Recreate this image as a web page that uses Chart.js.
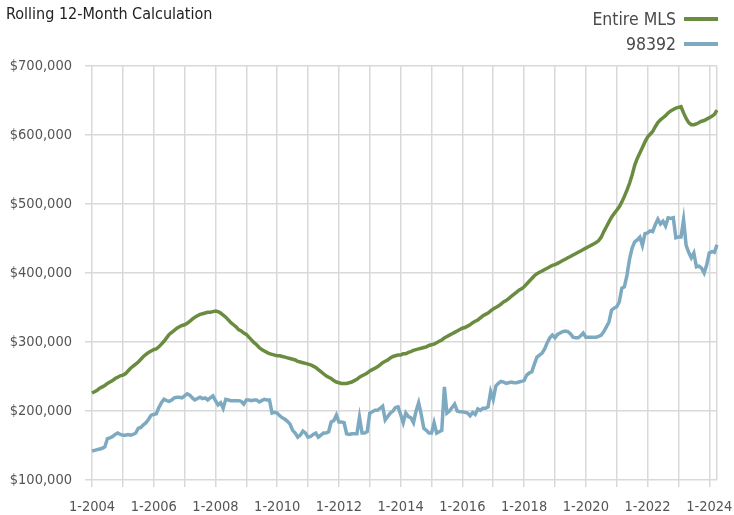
<!DOCTYPE html>
<html>
<head>
<meta charset="utf-8">
<script src="https://cdn.jsdelivr.net/npm/chart.js@4.4.1/dist/chart.umd.min.js"></script>
<style>
  html, body { margin: 0; padding: 0; background: #fff; }
  #wrap { position: relative; width: 734px; height: 515px; font-family: "DejaVu Sans Condensed", "Liberation Sans Narrow", sans-serif; }
  #title { position: absolute; left: 6px; top: 6px; font-size: 16px; line-height: 16px; color: #222; white-space: nowrap; }
  .leg { position: absolute; right: 16px; display: flex; align-items: center; font-size: 17.5px; line-height: 20px; color: #4a4a4a; white-space: nowrap; }
  .leg i { display: inline-block; width: 34px; height: 4px; margin-left: 8px; }
</style>
</head>
<body>
<div id="wrap">
  <canvas id="chart" width="734" height="515"></canvas>
  <div id="title">Rolling 12-Month Calculation</div>
  <div id="legend"></div>
</div>
<script>
// monthly, 1-2004 .. 4-2024
const startYear = 2004;
const monthCount = 244;
const labels = [];
for (let i = 0; i < monthCount; i++) {
  labels.push(((i % 12) + 1) + "-" + (startYear + Math.floor(i / 12)));
}

const seriesNames = ["Entire MLS", "98392"];
const seriesColors = ["#6a8c40", "#7eaac1"];

// values in $1000s
const entireMls = [
  226, 228, 230, 233, 235, 237, 240, 242, 244, 247, 249, 251,
  252, 254, 258, 262, 265, 268, 271, 275, 279, 282, 285, 287,
  289, 290, 293, 297, 301, 306, 311, 314, 317, 320, 322, 324,
  325, 327, 330, 333, 336, 338, 340, 341, 342, 343, 343, 344,
  345, 344, 342, 339, 336, 332, 328, 325, 322, 318, 316, 313,
  311, 307, 303, 299, 296, 292, 289, 287, 285, 283, 282, 281,
  280, 280, 279, 278, 277, 276, 275, 274, 272, 271, 270, 269,
  268, 267, 265, 263, 260, 257, 254, 251, 249, 247, 244, 242,
  241, 240, 240, 240, 241, 242, 244, 246, 249, 251, 253, 255,
  258, 260, 262, 264, 267, 270, 272, 274, 277, 279, 280, 281,
  281, 283, 283, 285, 286, 288, 289, 290, 291, 292, 293, 295,
  296, 297, 299, 301, 303, 306, 308, 310, 312, 314, 316, 318,
  320, 321, 323, 325, 328, 330, 332, 335, 338, 340, 342, 345,
  348, 350, 352, 355, 358, 360, 363, 366, 369, 372, 375, 377,
  380, 384, 388, 392, 396, 399, 401, 403, 405, 407, 409, 411,
  412, 414, 416, 418, 420, 422, 424, 426, 428, 430, 432, 434,
  436, 438, 440, 442, 444, 447, 452, 460, 467, 474, 481, 486,
  491, 496, 503, 511, 520, 530, 542, 556, 566, 574, 582, 590,
  597, 601, 605, 612, 618, 622, 625, 628, 632, 635, 637, 639,
  640, 641, 632, 624, 618, 615, 615, 616, 618, 620, 621, 623,
  625, 627, 630, 636
];

const zip98392 = [
  142, 143, 144, 145, 146, 148, 160, 161, 163, 166, 168, 166,
  165, 165, 166, 165, 166, 168, 175, 176, 180, 183, 188, 194,
  195, 196, 205, 212, 217, 215, 214, 216, 219, 220, 220, 219,
  222, 225, 223, 219, 216, 218, 220, 218, 219, 216, 219, 222,
  215, 209, 212, 204, 217, 216, 215, 215, 215, 215, 214, 210,
  216, 216, 215, 216, 216, 213, 215, 217, 216, 216, 197, 198,
  197, 193, 190, 188, 185, 181, 172, 168, 162, 165, 171, 168,
  162, 163, 166, 168, 162, 165, 168, 168, 170, 184, 186, 194,
  184, 184, 183, 167, 166, 167, 167, 167, 191, 168, 168, 170,
  197, 199, 201, 201, 204, 207, 187, 192, 197, 200, 205, 206,
  195, 183, 197, 192, 190, 183, 200, 212, 195, 175, 172, 168,
  168, 183, 168, 170, 172, 235, 197, 200, 205, 210, 200, 199,
  199, 198, 197, 193, 198, 195, 203, 201, 204, 204, 206, 228,
  217, 236, 240, 243, 242, 240, 241, 242, 241, 241, 242, 243,
  244, 252, 255, 257, 268, 278, 281, 284, 290, 299, 306, 310,
  306, 311, 313, 315, 316, 315, 312, 307, 306, 306, 309, 313,
  307, 307, 307, 307, 307, 308, 310, 315, 322, 329, 346, 349,
  351, 358, 378, 380, 397, 420, 436, 445, 448, 452, 440, 457,
  458, 461, 460, 470, 478, 471, 475, 468, 480, 479, 480, 451,
  452, 452, 477, 440, 430, 422, 429, 409, 410, 407, 400, 412,
  429, 431, 430, 441
];

const yMin = 100000;
const yMax = 700000;
const yStep = 100000;

const gridColor = "#d9d9d9";
const textColor = "#555";
const fontFamily = '"DejaVu Sans Condensed", "Liberation Sans Narrow", sans-serif';

// legend: text then line sample, stacked
const legendEl = document.getElementById("legend");
seriesNames.forEach((name, i) => {
  const row = document.createElement("div");
  row.className = "leg";
  row.style.top = (9 + i * 25) + "px";
  row.innerHTML = "<span>" + name + "</span><i style='background:" + seriesColors[i] + "'></i>";
  legendEl.appendChild(row);
});

const isYearLine = (i) => i % 12 === 0 || i === monthCount - 1;

const ctx = document.getElementById("chart").getContext("2d");
new Chart(ctx, {
  type: "line",
  data: {
    labels: labels,
    datasets: [
      {
        label: seriesNames[0],
        data: entireMls.map(v => v * 1000),
        borderColor: seriesColors[0],
        borderWidth: 3.5,
        pointRadius: 0,
        tension: 0,
        fill: false
      },
      {
        label: seriesNames[1],
        data: zip98392.map(v => v * 1000),
        borderColor: seriesColors[1],
        borderWidth: 3.5,
        pointRadius: 0,
        tension: 0,
        fill: false
      }
    ]
  },
  options: {
    responsive: false,
    animation: false,
    devicePixelRatio: 1,
    layout: { padding: { top: 66, right: 17, left: 0, bottom: 0 } },
    plugins: {
      legend: { display: false },
      tooltip: { enabled: false }
    },
    scales: {
      x: {
        offset: false,
        afterFit: (scale) => { scale.height = 35; },
        grid: {
          color: (c) => isYearLine(c.index) ? gridColor : "transparent",
          tickColor: (c) => c.index % 12 === 0 ? gridColor : "transparent",
          lineWidth: 1.5,
          tickLength: 7
        },
        border: { display: false },
        ticks: {
          autoSkip: false,
          maxRotation: 0,
          padding: 12,
          color: textColor,
          font: { family: fontFamily, size: 14.5 },
          callback: function (value, index) {
            return index % 24 === 0 ? labels[index] : "";
          }
        }
      },
      y: {
        min: yMin,
        max: yMax,
        afterFit: (scale) => { scale.width = 92; },
        grid: {
          color: gridColor,
          lineWidth: 1.5,
          tickLength: 7
        },
        border: { display: false },
        ticks: {
          stepSize: yStep,
          padding: 13,
          color: textColor,
          font: { family: fontFamily, size: 14.5 },
          callback: (v) => "$" + v.toLocaleString("en-US")
        }
      }
    }
  }
});
</script>
</body>
</html>
